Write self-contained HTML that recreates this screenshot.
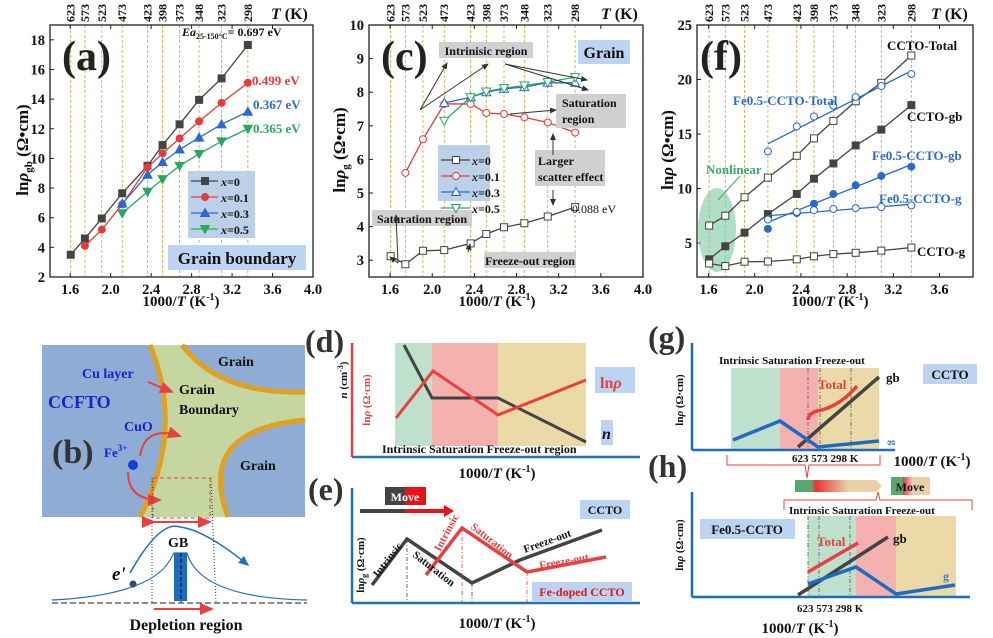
<!DOCTYPE html>
<html><head><meta charset="utf-8"><style>
body{margin:0;background:#fff}
svg{display:block;font-family:"Liberation Serif",serif;font-weight:bold}
</style></head><body>
<svg id="s" width="993" height="638" viewBox="0 0 993 638" xmlns="http://www.w3.org/2000/svg">
<defs>
<marker id="ar" markerWidth="8" markerHeight="8" refX="6" refY="3" orient="auto"><path d="M0,0 L7,3 L0,6z" fill="#333"/></marker>
<marker id="arr" markerWidth="8" markerHeight="8" refX="6" refY="3" orient="auto"><path d="M0,0 L7,3 L0,6z" fill="#e84040"/></marker>
<marker id="arb" markerWidth="8" markerHeight="8" refX="6" refY="3" orient="auto"><path d="M0,0 L7,3 L0,6z" fill="#2070c0"/></marker>
<linearGradient id="gr" x1="0" x2="1"><stop offset="0" stop-color="#e33"/><stop offset="1" stop-color="#f5d0c8"/></linearGradient>
<linearGradient id="gm" x1="0" x2="1"><stop offset="0" stop-color="#5aa870"/><stop offset="0.3" stop-color="#5aa870"/><stop offset="0.4" stop-color="#e33"/><stop offset="1" stop-color="#e8d0a8"/></linearGradient>
</defs>
<g id="g"></g>

<!-- Panel b -->
<rect x="42" y="345" width="263" height="172" fill="#8fadd4"/>
<path d="M150,345 Q185,430 140,517 L228,517 Q195,430 305,420 L305,392 Q220,395 182,345Z" fill="#c5d6a0"/>
<path d="M150,345 Q185,430 140,517" fill="none" stroke="#e0a020" stroke-width="5"/>
<path d="M182,345 Q220,395 305,392" fill="none" stroke="#e0a020" stroke-width="5"/>
<path d="M228,517 Q195,430 305,420" fill="none" stroke="#e0a020" stroke-width="5"/>
<text x="218" y="366" font-size="14" fill="#111">Grain</text>
<text x="240" y="470" font-size="14" fill="#111">Grain</text>
<text x="179" y="394" font-size="14" fill="#111">Grain</text>
<text x="179" y="414" font-size="14" fill="#111">Boundary</text>
<text x="82" y="378" font-size="14" fill="#1a22c8">Cu layer</text>
<text x="48" y="408" font-size="18" fill="#1a22c8">CCFTO</text>
<text x="124" y="431" font-size="14" fill="#1a22c8">CuO</text>
<text x="104" y="457" font-size="13" fill="#1a22c8">Fe<tspan font-size="9" dy="-6">3+</tspan></text>
<text x="52" y="463" font-size="34" fill="#333">(b)</text>
<line x1="148" y1="382" x2="172" y2="392" stroke="#e84040" stroke-width="2" marker-end="url(#arr)"/>
<path d="M140,456 Q145,425 180,436" fill="none" stroke="#e84040" stroke-width="2" marker-end="url(#arr)"/>
<path d="M128,472 Q128,500 160,500" fill="none" stroke="#e84040" stroke-width="2" marker-end="url(#arr)"/>
<circle cx="133" cy="465" r="5" fill="#1a3cd8"/>
<rect x="153" y="478" width="57" height="40" fill="none" stroke="#e84040" stroke-dasharray="4,3"/>
<line x1="152" y1="478" x2="152" y2="603" stroke="#333" stroke-dasharray="1,2"/>
<line x1="211" y1="478" x2="216" y2="603" stroke="#333" stroke-dasharray="1,2"/>
<line x1="154" y1="522" x2="210" y2="522" stroke="#e84040" stroke-width="2" marker-end="url(#arr)" marker-start="url(#arr)"/>
<path d="M130,573 Q160,520 180,527 Q205,530 248,565" fill="none" stroke="#2070c0" stroke-width="1.5" marker-end="url(#arb)"/>
<path d="M52,600 Q150,595 170,560 L174,553 L187,553 Q200,598 307,600" fill="none" stroke="#2070c0" stroke-width="1.2"/>
<text x="168" y="547" font-size="14" fill="#111">GB</text>
<rect x="174" y="553" width="13" height="48" fill="#1f6bc0"/>
<line x1="181" y1="553" x2="181" y2="603" stroke="#111" stroke-dasharray="4,2"/>
<line x1="52" y1="603" x2="307" y2="603" stroke="#666" stroke-dasharray="6,3" stroke-width="1.5"/>
<circle cx="133" cy="584" r="3.5" fill="#2a4a80"/>
<text x="112" y="580" font-size="19" font-style="italic" fill="#111">e'</text>
<line x1="154" y1="609" x2="212" y2="609" stroke="#e84040" stroke-width="2" marker-end="url(#arr)"/>
<text x="186" y="630" font-size="16" text-anchor="middle" fill="#111">Depletion region</text>

<!-- Panel d -->
<text x="305" y="352" font-size="32" fill="#333">(d)</text>
<rect x="395" y="343" width="37" height="103" fill="#bfe0cc"/>
<rect x="432" y="343" width="66" height="103" fill="#f5b0b0"/>
<rect x="498" y="343" width="88" height="103" fill="#ecd9a8"/>
<polyline points="404,345 432,398 498,398 586,442" fill="none" stroke="#444" stroke-width="3"/>
<polyline points="396,418 433,371 498,415 586,380" fill="none" stroke="#e84040" stroke-width="3"/>
<line x1="352" y1="457" x2="640" y2="457" stroke="#2070c0" stroke-width="2.5"/>
<line x1="352" y1="457" x2="352" y2="343" stroke="#e84040" stroke-width="2.5"/>
<rect x="595" y="367" width="40" height="26" fill="#bcd4f2"/>
<text x="600" y="388" font-size="16" fill="#e84040">ln<tspan font-style="italic">ρ</tspan></text>
<rect x="601" y="420" width="12" height="25" fill="#bcd4f2"/>
<text x="602" y="439" font-size="16" font-style="italic" fill="#111">n</text>
<text x="382" y="453" font-size="12" fill="#111">Intrinsic Saturation Freeze-out region</text>
<text transform="translate(370,400) rotate(-90)" font-size="11" text-anchor="middle" fill="#e84040">ln<tspan font-style="italic">ρ</tspan> (Ω·cm)</text>
<text transform="translate(347,380) rotate(-90)" font-size="11" text-anchor="middle" fill="#111"><tspan font-style="italic">n</tspan> (cm<tspan font-size="8" dy="-4">-3</tspan><tspan dy="4">)</tspan></text>
<text x="497" y="478" font-size="15" text-anchor="middle" fill="#111">1000/<tspan font-style="italic">T</tspan> (K<tspan font-size="10" dy="-6">-1</tspan><tspan dy="6">)</tspan></text>

<!-- Panel e -->
<text x="308" y="500" font-size="32" fill="#333">(e)</text>
<rect x="385" y="487" width="20" height="18" fill="#444"/><rect x="405" y="487" width="21" height="18" fill="#e8121a"/>
<text x="405" y="501" font-size="12" fill="#fff" text-anchor="middle">Move</text>
<line x1="360" y1="511" x2="405" y2="511" stroke="#444" stroke-width="4"/>
<line x1="405" y1="511" x2="446" y2="511" stroke="#e8121a" stroke-width="4"/>
<path d="M444,505 L454,511 L444,517z" fill="#e8121a"/>
<polyline points="372,585 407,539 472,583 520,560 602,530" fill="none" stroke="#444" stroke-width="3.5"/>
<polyline points="426,575 462,528 527,572 606,557" fill="none" stroke="#e84040" stroke-width="3.5"/>
<line x1="407" y1="539" x2="407" y2="603" stroke="#444" stroke-dasharray="4,2,1,2" stroke-width="0.8"/>
<line x1="462" y1="528" x2="462" y2="603" stroke="#e84040" stroke-dasharray="4,2,1,2" stroke-width="0.8"/>
<line x1="472" y1="583" x2="472" y2="603" stroke="#444" stroke-dasharray="4,2,1,2" stroke-width="0.8"/>
<line x1="527" y1="572" x2="527" y2="603" stroke="#e84040" stroke-dasharray="4,2,1,2" stroke-width="0.8"/>
<text transform="translate(378,578) rotate(-52)" font-size="11" fill="#111">Intrinsic</text>
<text transform="translate(412,556) rotate(38)" font-size="11" fill="#111">Saturation</text>
<text transform="translate(440,552) rotate(-62)" font-size="11" fill="#e84040">Intrinsic</text>
<text transform="translate(470,528) rotate(38)" font-size="11" fill="#e84040">Saturation</text>
<text transform="translate(525,553) rotate(-20)" font-size="11" fill="#111">Freeze-out</text>
<text transform="translate(540,569) rotate(-10)" font-size="11" fill="#e84040">Freeze-out</text>
<rect x="580" y="500" width="50" height="19" fill="#bcd4f2"/>
<text x="605" y="514" font-size="12" text-anchor="middle" fill="#111">CCTO</text>
<rect x="532" y="582" width="100" height="19" fill="#bcd4f2"/>
<text x="582" y="596" font-size="12" text-anchor="middle" fill="#e8121a">Fe-doped CCTO</text>
<line x1="352" y1="603" x2="640" y2="603" stroke="#2070c0" stroke-width="2.5"/>
<line x1="352" y1="603" x2="352" y2="488" stroke="#2070c0" stroke-width="2.5"/>
<text transform="translate(364,565) rotate(-90)" font-size="11" text-anchor="middle" fill="#111">ln<tspan font-style="italic">ρ</tspan><tspan font-size="8" dy="3">g</tspan><tspan dy="-3"> (Ω·cm)</tspan></text>
<text x="497" y="628" font-size="15" text-anchor="middle" fill="#111">1000/<tspan font-style="italic">T</tspan> (K<tspan font-size="10" dy="-6">-1</tspan><tspan dy="6">)</tspan></text>

<!-- Panel g -->
<text x="648" y="348" font-size="32" fill="#333">(g)</text>
<rect x="731" y="368" width="49" height="81" fill="#bfe0cc"/>
<rect x="780" y="368" width="38" height="81" fill="#f5b0b0"/>
<rect x="818" y="368" width="61" height="81" fill="#ecd9a8"/>
<line x1="808" y1="368" x2="808" y2="449" stroke="#555" stroke-dasharray="4,2,1,2" stroke-width="0.8"/>
<line x1="820" y1="368" x2="820" y2="449" stroke="#555" stroke-dasharray="4,2,1,2" stroke-width="0.8"/>
<line x1="851" y1="368" x2="851" y2="449" stroke="#555" stroke-dasharray="4,2,1,2" stroke-width="0.8"/>
<text x="719" y="364" font-size="11" fill="#111">Intrinsic Saturation Freeze-out</text>
<line x1="798" y1="447" x2="879" y2="377" stroke="#444" stroke-width="3.5"/>
<polyline points="733,440 780,421 818,447 879,441" fill="none" stroke="#1f6bc0" stroke-width="3.5"/>
<path d="M808,420 Q808,412 822,410 Q842,404 857,386" fill="none" stroke="#e84040" stroke-width="3.5"/>
<text x="818" y="389" font-size="13" fill="#e84040">Total</text>
<text x="886" y="382" font-size="13" fill="#111">gb</text>
<text transform="translate(890,440) rotate(90)" font-size="11" fill="#4a7ac0">g</text>
<rect x="923" y="364" width="54" height="20" fill="#bcd4f2"/>
<text x="950" y="379" font-size="13" text-anchor="middle" fill="#111">CCTO</text>
<line x1="692" y1="450" x2="895" y2="450" stroke="#1f6bc0" stroke-width="2.5"/>
<line x1="692" y1="450" x2="692" y2="343" stroke="#1f6bc0" stroke-width="2.5"/>
<text transform="translate(683,400) rotate(-90)" font-size="11" text-anchor="middle" fill="#111">ln<tspan font-style="italic">ρ</tspan> (Ω·cm)</text>
<path d="M727,455 L727,465 L805,465 L807,478 L809,465 L880,465 L880,455" fill="none" stroke="#e84040" stroke-width="1"/>
<text x="792" y="462" font-size="11" fill="#111">623 573  298 K</text>
<text x="932" y="466" font-size="15" text-anchor="middle" fill="#111">1000/<tspan font-style="italic">T</tspan> (K<tspan font-size="10" dy="-6">-1</tspan><tspan dy="6">)</tspan></text>

<!-- Panel h -->
<text x="648" y="477" font-size="32" fill="#333">(h)</text>
<rect x="795" y="480" width="53" height="12" fill="url(#gm)"/>
<path d="M848,480 L876,480 L882,486 L876,492 L848,492z" fill="#e8d0a8"/>
<rect x="891" y="477" width="39" height="18" fill="#e8d0a8"/>
<rect x="891" y="477" width="12" height="18" fill="#5aa870"/>
<rect x="903" y="477" width="10" height="18" fill="url(#gr)"/>
<text x="910" y="491" font-size="12" text-anchor="middle" fill="#111">Move</text>
<path d="M784,510 L784,500 L876,500 L878,492 L880,500 L972,500 L972,510" fill="none" stroke="#e84040" stroke-width="1"/>
<rect x="808" y="516" width="48" height="81" fill="#bfe0cc"/>
<rect x="856" y="516" width="40" height="81" fill="#f5b0b0"/>
<rect x="896" y="516" width="60" height="81" fill="#ecd9a8"/>
<line x1="808" y1="516" x2="808" y2="597" stroke="#555" stroke-dasharray="4,2,1,2" stroke-width="0.8"/>
<line x1="819" y1="516" x2="819" y2="597" stroke="#555" stroke-dasharray="4,2,1,2" stroke-width="0.8"/>
<line x1="850" y1="516" x2="850" y2="597" stroke="#555" stroke-dasharray="4,2,1,2" stroke-width="0.8"/>
<text x="789" y="514" font-size="11" fill="#111">Intrinsic   Saturation  Freeze-out</text>
<line x1="798" y1="595" x2="888" y2="537" stroke="#444" stroke-width="3.5"/>
<line x1="808" y1="572" x2="858" y2="543" stroke="#e84040" stroke-width="3.5"/>
<polyline points="808,584 856,567 896,594 955,585" fill="none" stroke="#1f6bc0" stroke-width="3.5"/>
<text x="817" y="546" font-size="13" fill="#e84040">Total</text>
<text x="893" y="543" font-size="13" fill="#111">gb</text>
<text x="943" y="580" font-size="12" fill="#4a7ac0">g</text>
<rect x="700" y="519" width="95" height="20" fill="#bcd4f2"/>
<text x="747" y="534" font-size="13" text-anchor="middle" fill="#111">Fe0.5-CCTO</text>
<line x1="692" y1="597" x2="970" y2="597" stroke="#1f6bc0" stroke-width="2.5"/>
<line x1="692" y1="597" x2="692" y2="492" stroke="#1f6bc0" stroke-width="2.5"/>
<text transform="translate(683,545) rotate(-90)" font-size="11" text-anchor="middle" fill="#111">ln<tspan font-style="italic">ρ</tspan> (Ω·cm)</text>
<text x="797" y="612" font-size="11" fill="#111">623 573  298 K</text>
<text x="800" y="633" font-size="15" text-anchor="middle" fill="#111">1000/<tspan font-style="italic">T</tspan> (K<tspan font-size="10" dy="-6">-1</tspan><tspan dy="6">)</tspan></text>
</svg>
<script>
var G=document.getElementById('g'),NS='http://www.w3.org/2000/svg';
function el(t,a,txt){var e=document.createElementNS(NS,t);for(var k in a)e.setAttribute(k,a[k]);if(txt!=null)e.textContent=txt;G.appendChild(e);return e;}
function H(t,a,html){var e=el(t,a);e.innerHTML=html;return e;}
var X=[1.605,1.745,1.912,2.114,2.364,2.513,2.681,2.874,3.096,3.356];
var TL=['623','573','523','473','423','398','373','348','323','298'];
function frame(L,R,T,B,x0,x1,y0,y1,xt,yt){
 var fx=function(v){return L+(v-x0)/(x1-x0)*(R-L)},fy=function(v){return B-(v-y0)/(y1-y0)*(B-T)};
 X.forEach(function(x,i){var px=fx(x);el('line',{x1:px,y1:T,x2:px,y2:B,stroke:'#d9a030','stroke-dasharray':'3,2','stroke-width':0.8});
  el('text',{transform:'translate('+(px+4)+','+(T-3)+') rotate(-90)','font-size':12,fill:'#111'},TL[i]);});
 el('rect',{x:L,y:T,width:R-L,height:B-T,fill:'none',stroke:'#222','stroke-width':1.3});
 xt.forEach(function(v){var px=fx(v);el('line',{x1:px,y1:B,x2:px,y2:B-4,stroke:'#222'});el('line',{x1:px,y1:T,x2:px,y2:T+4,stroke:'#222'});el('text',{x:px,y:B+17,'font-size':14.5,'text-anchor':'middle',fill:'#111'},v.toFixed(1));});
 yt.forEach(function(v){var py=fy(v);el('line',{x1:L,y1:py,x2:L+4,y2:py,stroke:'#222'});el('text',{x:L-5,y:py+5,'font-size':14.5,'text-anchor':'end',fill:'#111'},String(v));});
 H('text',{x:R-42,y:T-6,'font-size':16,fill:'#111'},'<tspan font-style="italic">T</tspan> (K)');
 return [fx,fy];
}
function series(f,xs,ys,col,mk,fill,line){
 var pts=[];xs.forEach(function(x,i){if(ys[i]!=null)pts.push([f[0](x),f[1](ys[i])]);});
 if(line!==false)el('polyline',{points:pts.map(function(p){return p.join(',')}).join(' '),fill:'none',stroke:col,'stroke-width':1.3});
 pts.forEach(function(p){var x=p[0],y=p[1],s=3.5,c=fill?col:'#fff';
  if(mk=='s')el('rect',{x:x-s,y:y-s,width:2*s,height:2*s,fill:c,stroke:col});
  else if(mk=='o')el('circle',{cx:x,cy:y,r:s,fill:c,stroke:col});
  else if(mk=='^')el('path',{d:'M'+x+','+(y-s-1)+'L'+(x+s+1)+','+(y+s)+'L'+(x-s-1)+','+(y+s)+'z',fill:c,stroke:col});
  else el('path',{d:'M'+x+','+(y+s+1)+'L'+(x+s+1)+','+(y-s)+'L'+(x-s-1)+','+(y-s)+'z',fill:c,stroke:col});});
}
var K='#444',R='#e83a3a',B='#2a6ad0',Gn='#2aa860';
var fa=frame(50,313,25,277,1.4,4.0,2,19,[1.6,2.0,2.4,2.8,3.2,3.6,4.0],[2,4,6,8,10,12,14,16,18]);
series(fa,X,[3.5,4.6,5.95,7.65,9.5,10.9,12.3,13.95,15.4,17.65],K,'s',1);
series(fa,X,[null,4.1,5.2,6.9,9.4,10.35,11.35,12.5,13.75,15.1],R,'o',1);
series(fa,X,[null,null,null,6.95,8.9,9.75,10.6,11.4,12.3,13.15],B,'^',1);
series(fa,X,[null,null,null,6.3,7.75,8.6,9.5,10.3,11.15,12.0],Gn,'v',1);
el('text',{x:62,y:70,'font-size':42,fill:'#222'},'(a)');
H('text',{x:182,y:36,'font-size':12,fill:'#111'},'<tspan font-style="italic">Ea</tspan><tspan font-size="8" dy="3">25-150°C</tspan><tspan dy="-3">= 0.697 eV</tspan>');
el('text',{x:252,y:85,'font-size':13,fill:R},'0.499  eV');
el('text',{x:253,y:109,'font-size':13,fill:B},'0.367 eV');
el('text',{x:253,y:133,'font-size':13,fill:Gn},'0.365 eV');
el('rect',{x:188,y:171,width:67,height:67,fill:'#bcd0ea'});
[['x=0',K,'s'],['x=0.1',R,'o'],['x=0.3',B,'^'],['x=0.5',Gn,'v']].forEach(function(l,i){var y=181+i*16;
 el('line',{x1:191,y1:y,x2:218,y2:y,stroke:l[1],'stroke-width':1.3});
 series([function(v){return v},function(v){return v}],[205],[y],l[1],l[2],1,false);
 H('text',{x:221,y:y+5,'font-size':12,fill:'#111'},'<tspan font-style="italic">x</tspan>='+l[0].slice(2));});
el('rect',{x:168,y:245,width:138,height:25,fill:'#bcd4f2'});
el('text',{x:237,y:264,'font-size':17,'text-anchor':'middle',fill:'#111'},'Grain boundary');
H('text',{transform:'translate(28,150) rotate(-90)','font-size':17,'text-anchor':'middle',fill:'#111'},'ln<tspan font-style="italic">ρ</tspan><tspan font-size="11" dy="4">gb</tspan><tspan dy="-4"> (Ω•cm)</tspan>');
H('text',{x:181,y:306,'font-size':15,'text-anchor':'middle',fill:'#111'},'1000/<tspan font-style="italic">T</tspan> (K<tspan font-size="10" dy="-6">-1</tspan><tspan dy="6">)</tspan>');
var fc=frame(369,643,25,277,1.4,4.0,2.5,10,[1.6,2.0,2.4,2.8,3.2,3.6,4.0],[3,4,5,6,7,8,9,10]);
series(fc,X,[3.12,2.88,3.28,3.3,3.5,3.78,3.98,4.1,4.3,4.58],K,'s',0);
series(fc,X,[null,5.6,6.6,7.65,7.65,7.38,7.35,7.25,7.1,6.8],R,'o',0);
series(fc,X,[null,null,null,7.68,7.85,8.0,8.1,8.15,8.28,8.28],B,'^',0);
series(fc,X,[null,null,null,7.15,7.85,8.02,8.12,8.2,8.3,8.45],Gn,'v',0);
el('text',{x:381,y:70,'font-size':42,fill:'#222'},'(c)');
function box(x,y,w,h,c){el('rect',{x:x,y:y,width:w,height:h,fill:c});}
box(439,42,94,16,'#d0d0d0');el('text',{x:486,y:55,'font-size':12,'text-anchor':'middle',fill:'#111'},'Intrinisic region');
box(578,40,52,24,'#bcd4f2');el('text',{x:604,y:58,'font-size':16,'text-anchor':'middle',fill:'#111'},'Grain');
box(556,94,70,34,'#d0d0d0');el('text',{x:562,y:107,'font-size':12,fill:'#111'},'Saturation');el('text',{x:562,y:123,'font-size':12,fill:'#111'},'region');
box(535,150,70,36,'#d0d0d0');el('text',{x:538,y:165,'font-size':12,fill:'#111'},'Larger');el('text',{x:538,y:181,'font-size':12,fill:'#111'},'scatter effect');
box(372,210,100,16,'#d0d0d0');el('text',{x:422,y:223,'font-size':12,'text-anchor':'middle',fill:'#111'},'Saturation region');
box(484,252,92,16,'#d0d0d0');el('text',{x:530,y:265,'font-size':12,'text-anchor':'middle',fill:'#111'},'Freeze-out region');
el('text',{x:572,y:213,'font-size':12,'font-weight':'normal',fill:'#111'},'0.088 eV');
function arr(x1,y1,x2,y2){el('line',{x1:x1,y1:y1,x2:x2,y2:y2,stroke:'#333','stroke-width':1,'marker-end':'url(#ar)'});}
arr(420,110,447,63);arr(420,110,488,64);arr(505,64,588,90);arr(505,64,587,80);arr(510,114,556,110);
arr(553,155,553,134);arr(553,190,553,205);arr(398,263,396,215);arr(398,263,390,257);arr(468,252,470,244);
box(438,145,52,56,'#bcd0ea');
[['0',K,'s'],['0.1',R,'o'],['0.3',B,'^'],['0.5',Gn,'v']].forEach(function(l,i){var y=160+i*16;
 el('line',{x1:441,y1:y,x2:470,y2:y,stroke:l[1],'stroke-width':1.3});
 series([function(v){return v},function(v){return v}],[456],[y],l[1],l[2],0,false);
 H('text',{x:472,y:y+5,'font-size':12,fill:'#111'},'<tspan font-style="italic">x</tspan>='+l[0]);});
H('text',{transform:'translate(345,150) rotate(-90)','font-size':17,'text-anchor':'middle',fill:'#111'},'ln<tspan font-style="italic">ρ</tspan><tspan font-size="11" dy="4">g</tspan><tspan dy="-4"> (Ω•cm)</tspan>');
H('text',{x:497,y:306,'font-size':15,'text-anchor':'middle',fill:'#111'},'1000/<tspan font-style="italic">T</tspan> (K<tspan font-size="10" dy="-6">-1</tspan><tspan dy="6">)</tspan>');
var ff=frame(697,973,25,277,1.5,3.89,1.88,25,[1.6,2.0,2.4,2.8,3.2,3.6],[5,10,15,20,25]);
el('ellipse',{cx:717,cy:230,rx:19,ry:42,fill:'#7cc8a0',opacity:0.6});
el('line',{x1:718,y1:200,x2:740,y2:176,stroke:'#3aa870'});
el('text',{x:706,y:174,'font-size':13,fill:'#3aa870'},'Nonlinear');
series(ff,X,[6.6,7.5,9.2,11.0,13.0,14.6,16.2,18.0,19.7,22.2],K,'s',0);
series(ff,X,[3.5,4.7,5.95,7.65,9.5,10.9,12.3,13.95,15.4,17.65],K,'s',1);
series(ff,X,[3.12,2.88,3.28,3.3,3.5,3.78,3.98,4.1,4.3,4.58],K,'s',0);
var XF=X.slice(3);
function fl(a,b){el('line',{x1:ff[0](2.114),y1:ff[1](a),x2:ff[0](3.356),y2:ff[1](b),stroke:B,'stroke-width':1.3});}
fl(14.1,20.8);fl(6.9,12.2);fl(7.5,8.55);
series(ff,XF,[13.4,15.7,16.6,17.6,18.4,19.4,20.5],B,'o',0,false);
series(ff,XF,[6.3,7.75,8.6,9.5,10.3,11.15,12.0],B,'o',1,false);
series(ff,XF,[7.15,7.85,8.02,8.12,8.2,8.3,8.45],B,'o',0,false);
el('text',{x:700,y:70,'font-size':42,fill:'#222'},'(f)');
el('text',{x:887,y:50,'font-size':13,fill:'#111'},'CCTO-Total');
el('text',{x:733,y:105,'font-size':13,fill:B},'Fe0.5-CCTO-Total');
el('text',{x:907,y:121,'font-size':13,fill:'#111'},'CCTO-gb');
el('text',{x:872,y:160,'font-size':13,fill:B},'Fe0.5-CCTO-gb');
el('text',{x:879,y:203,'font-size':13,fill:B},'Fe0.5-CCTO-g');
el('text',{x:917,y:256,'font-size':13,fill:'#111'},'CCTO-g');
H('text',{transform:'translate(673,150) rotate(-90)','font-size':17,'text-anchor':'middle',fill:'#111'},'ln<tspan font-style="italic">ρ</tspan> (Ω•cm)');
H('text',{x:830,y:306,'font-size':15,'text-anchor':'middle',fill:'#111'},'1000/<tspan font-style="italic">T</tspan> (K<tspan font-size="10" dy="-6">-1</tspan><tspan dy="6">)</tspan>');
</script>
</body></html>
